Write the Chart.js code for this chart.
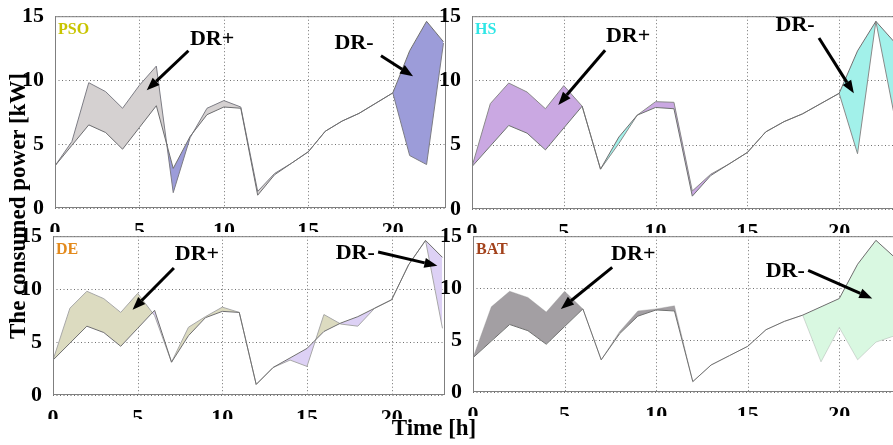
<!DOCTYPE html>
<html lang="en">
<head>
    <meta charset="UTF-8">
    <title>Consumed power with DR</title>
    <script src="https://cdn.jsdelivr.net/npm/chart.js@4.4.0/dist/chart.umd.min.js"></script>
    <style>
        body {
            margin: 0;
            width: 893px;
            height: 445px;
            overflow: hidden;
            position: relative;
            background: #fff;
            font-family: 'Liberation Serif', 'Times New Roman', serif;
        }
        canvas {
            position: absolute;
        }
        .ylabel {
            position: absolute;
            left: 18px;
            top: 206px;
            transform: translate(-50%, -50%) rotate(-90deg);
            font-weight: bold;
            font-size: 23px;
            white-space: nowrap;
        }
        .xlabel {
            position: absolute;
            left: 434px;
            top: 428px;
            transform: translate(-50%, -50%);
            font-weight: bold;
            font-size: 23px;
            white-space: nowrap;
        }
    </style>
</head>
<body>
    <canvas id="psoChart" width="452" height="232" style="left:0;top:0"></canvas>
    <canvas id="hsChart" width="460" height="233" style="left:440px;top:0"></canvas>
    <canvas id="deChart" width="452" height="199" style="left:0;top:220px"></canvas>
    <canvas id="batChart" width="460" height="196" style="left:440px;top:220px"></canvas>
    <div class="ylabel">The consumed power [kW]</div>
    <div class="xlabel">Time [h]</div>

    <script>
        // hours of the day
        const hours = [0, 1, 2, 3, 4, 5, 6, 7, 8, 9, 10, 11, 12, 13, 14, 15, 16, 17, 18, 19, 20, 21, 22, 23];
        // consumption without DR (kW)
        const baseLoad = [3.3, 4.9, 6.5, 5.9, 4.6, 6.3, 8.0, 3.1, 5.6, 7.3, 7.9, 7.8, 1.0, 2.6, 3.5, 4.4, 6.0, 6.8, 7.4, 8.2, 9.0, 12.3, 14.6, 13.0];
        // consumption with DR for each optimiser (kW)
        const psoLoad = [3.3, 5.2, 9.8, 9.1, 7.8, 9.6, 11.1, 1.2, 5.5, 7.8, 8.4, 7.9, 1.3, 2.7, 3.5, 4.4, 6.0, 6.8, 7.4, 8.2, 9.0, 4.1, 3.4, 12.9];
        const hsLoad = [3.3, 8.2, 9.8, 9.1, 7.8, 9.6, 8.0, 3.1, 5.1, 7.3, 8.35, 8.3, 1.4, 2.7, 3.5, 4.4, 6.0, 6.8, 7.4, 8.2, 9.0, 4.3, 14.6, 7.3];
        const deLoad = [3.3, 8.2, 9.8, 9.1, 7.8, 9.6, 7.5, 3.1, 6.4, 7.4, 8.3, 7.8, 1.0, 2.6, 3.3, 2.7, 7.6, 6.7, 6.5, 8.2, 9.0, 12.3, 14.6, 6.3];
        const batLoad = [3.3, 8.2, 9.7, 9.1, 7.7, 9.7, 8.0, 3.1, 5.8, 7.8, 8.0, 8.3, 1.0, 2.6, 3.5, 4.4, 6.0, 6.8, 7.4, 2.9, 6.2, 3.1, 4.8, 5.4];

        const xTicks = [0, 5, 10, 15, 20];
        const yTicks = [0, 5, 10, 15];

        const serif = "'Liberation Serif', 'Times New Roman', serif";

        function toPoints(values) {
            return hours.map((h, i) => ({ x: h, y: values[i] }));
        }

        function drawArrow(ctx, x0, y0, x1, y1) {
            const ang = Math.atan2(y1 - y0, x1 - x0);
            const len = 13, half = 5;
            const bx = x1 - len * Math.cos(ang), by = y1 - len * Math.sin(ang);
            ctx.lineWidth = 3;
            ctx.beginPath();
            ctx.moveTo(x0, y0);
            ctx.lineTo(bx, by);
            ctx.stroke();
            ctx.beginPath();
            ctx.moveTo(x1, y1);
            ctx.lineTo(bx + half * Math.sin(ang), by - half * Math.cos(ang));
            ctx.lineTo(bx - half * Math.sin(ang), by + half * Math.cos(ang));
            ctx.closePath();
            ctx.fill();
        }

        // dotted grid, frame, panel name, DR+ / DR- callouts
        const decorPlugin = {
            id: 'decor',
            beforeDatasetsDraw(chart) {
                const { ctx, chartArea: a, scales: { x, y } } = chart;
                ctx.save();
                ctx.strokeStyle = '#707070';
                ctx.lineWidth = 1;
                ctx.setLineDash([1, 2.5]);
                ctx.beginPath();
                xTicks.forEach(v => {
                    const px = Math.round(x.getPixelForValue(v)) + 0.5;
                    ctx.moveTo(px, a.top);
                    ctx.lineTo(px, a.bottom);
                });
                yTicks.forEach(v => {
                    const py = Math.round(y.getPixelForValue(v)) + 0.5;
                    ctx.moveTo(a.left, py);
                    ctx.lineTo(a.right, py);
                });
                ctx.stroke();
                ctx.restore();
            },
            afterDraw(chart, args, o) {
                const { ctx, chartArea: a, scales: { x, y } } = chart;
                ctx.save();
                ctx.strokeStyle = '#7f7f7f';
                ctx.lineWidth = 1;
                ctx.strokeRect(a.left + 0.5, a.top + 0.5, a.right - a.left - 1, a.bottom - a.top - 1);

                ctx.font = 'bold 16px ' + serif;
                ctx.fillStyle = o.labelColor;
                ctx.textAlign = 'left';
                ctx.textBaseline = 'top';
                ctx.fillText(o.label, a.left + 3, a.top + 6);

                ctx.fillStyle = '#000';
                ctx.strokeStyle = '#000';
                ctx.font = 'bold 22px ' + serif;
                ctx.textAlign = 'center';
                ctx.textBaseline = 'middle';
                o.notes.forEach(n => {
                    ctx.fillText(n.text, x.getPixelForValue(n.at[0]), y.getPixelForValue(n.at[1]));
                    drawArrow(ctx,
                        x.getPixelForValue(n.from[0]), y.getPixelForValue(n.from[1]),
                        x.getPixelForValue(n.to[0]), y.getPixelForValue(n.to[1]));
                });
                ctx.restore();
            }
        };

        function makePanel(id, load, p) {
            const tickFont = { family: serif, size: 22, weight: 'bold' };
            return new Chart(document.getElementById(id), {
                type: 'line',
                data: {
                    datasets: [
                        {
                            label: 'Without DR',
                            data: toPoints(baseLoad),
                            borderColor: '#6f6f6f',
                            borderWidth: 1,
                            pointRadius: 0,
                            tension: 0,
                            fill: false
                        },
                        {
                            label: p.label,
                            data: toPoints(load),
                            borderColor: p.edge,
                            borderWidth: 1,
                            pointRadius: 0,
                            tension: 0,
                            fill: { target: 0, above: p.up, below: p.down }
                        }
                    ]
                },
                options: {
                    responsive: false,
                    animation: false,
                    layout: {
                        autoPadding: false,
                        padding: { top: p.padTop, right: p.padRight, left: 0, bottom: 0 }
                    },
                    plugins: {
                        legend: { display: false },
                        tooltip: { enabled: false },
                        decor: { label: p.label, labelColor: p.labelColor, notes: p.notes }
                    },
                    scales: {
                        x: {
                            type: 'linear',
                            min: 0,
                            max: 23.15,
                            afterBuildTicks: s => { s.ticks = xTicks.map(v => ({ value: v })); },
                            afterFit: s => { s.height = 24; },
                            ticks: { font: tickFont, color: '#000', padding: 2, maxRotation: 0 },
                            grid: { display: false },
                            border: { display: false }
                        },
                        y: {
                            min: 0,
                            max: 15,
                            afterBuildTicks: s => { s.ticks = yTicks.map(v => ({ value: v })); },
                            afterFit: s => { s.width = p.yAxisWidth; },
                            ticks: { font: tickFont, color: '#000', padding: 3 },
                            grid: { display: false },
                            border: { display: false }
                        }
                    }
                },
                plugins: [decorPlugin]
            });
        }

        makePanel('psoChart', psoLoad, {
            label: 'PSO', labelColor: '#c8c400',
            up: '#d5d1d1', down: '#9c9cd9', edge: '#7d7d85',
            yAxisWidth: 55, padTop: 15, padRight: 6,
            notes: [
                { text: 'DR+', at: [9.3, 13.2], from: [7.9, 12.3], to: [5.43, 9.2] },
                { text: 'DR-', at: [17.7, 12.9], from: [19.3, 11.9], to: [21.2, 10.3] }
            ]
        });

        makePanel('hsChart', hsLoad, {
            label: 'HS', labelColor: '#2ee6e6',
            up: '#caa8e2', down: '#a2f1ea', edge: '#8a8a8a',
            yAxisWidth: 32, padTop: 16, padRight: 3,
            notes: [
                { text: 'DR+', at: [8.5, 13.4], from: [7.25, 12.35], to: [4.7, 8.1] },
                { text: 'DR-', at: [17.6, 14.3], from: [18.9, 13.3], to: [20.8, 9.0] }
            ]
        });

        makePanel('deChart', deLoad, {
            label: 'DE', labelColor: '#e38a1c',
            up: '#dcdbc0', down: '#ddd1f5', edge: '#a8a8a8',
            yAxisWidth: 53, padTop: 15, padRight: 7,
            notes: [
                { text: 'DR+', at: [8.5, 13.3], from: [7.14, 12.0], to: [4.7, 8.05] },
                { text: 'DR-', at: [17.85, 13.35], from: [19.2, 13.5], to: [22.7, 12.2] }
            ]
        });

        makePanel('batChart', batLoad, {
            label: 'BAT', labelColor: '#a3421c',
            up: '#a39fa3', down: '#d9f8e1', edge: 'rgba(150,150,150,0.35)',
            yAxisWidth: 33, padTop: 15, padRight: 3,
            notes: [
                { text: 'DR+', at: [8.75, 13.3], from: [7.6, 12.0], to: [4.8, 8.0] },
                { text: 'DR-', at: [17.05, 11.6], from: [18.3, 11.7], to: [21.8, 9.0] }
            ]
        });
    </script>
</body>
</html>
